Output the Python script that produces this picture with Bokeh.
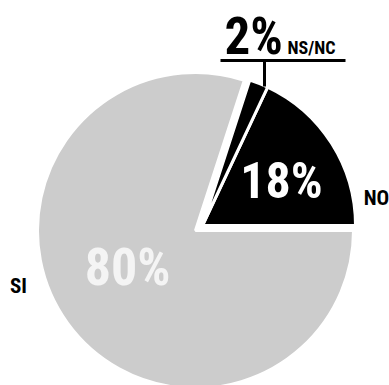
import math
from bokeh.plotting import figure
from bokeh.models import Range1d
from bokeh.core.properties import value
from bokeh.embed import file_html
from bokeh.resources import INLINE

labels = ["NO", "NS/NC", "SI"]
values = [18, 2, 80]
pct_labels = ["18%", "2%", "80%"]
colors = ["#000000", "#000000", "#cccccc"]

W, H = 389, 385
p = figure(width=W, height=H, output_backend="svg", toolbar_location=None,
           x_range=Range1d(0, W), y_range=Range1d(0, H), min_border=0)
p.axis.visible = False
p.grid.visible = False
p.outline_line_color = None
p.background_fill_color = "white"
p.border_fill_color = "white"

cx, cy = 195, H - 230
R = 158
total = sum(values)
start = 0.0
angles = []
for v in values:
    a0 = start
    a1 = start + v / total * 2 * math.pi
    angles.append((a0, a1))
    start = a1

ex, ey = 7, 5
for i, (lab, v, c) in enumerate(zip(labels, values, colors)):
    a0, a1 = angles[i]
    if c == "#000000":
        x, y, r = cx + ex, cy + ey, R - 5
    else:
        x, y, r = cx, cy, R
    p.wedge(x=[x], y=[y], radius=r, start_angle=a0, end_angle=a1,
            fill_color=c, line_color="white", line_width=3)

font = value("Roboto Condensed, Roboto, sans-serif")

def txt(x, y, t, size, color, align):
    p.text(x=[x], y=[H - y], text=[t], text_font=font,
           text_font_style="bold", text_font_size=size, text_color=color,
           text_align=align, text_baseline="alphabetic")

txt(281, 180.5, pct_labels[0], "50px", "white", "center")
txt(127, 266.5, pct_labels[2], "52px", "#f4f4f4", "center")
txt(224, 36, pct_labels[1], "51px", "black", "left")
txt(287, 47, labels[1], "18px", "black", "left")
txt(376, 197.5, labels[0], "21px", "black", "center")
txt(18, 285.5, labels[2], "21px", "black", "center")

p.line(x=[220, 345], y=[H - 60, H - 60], line_color="black", line_width=3)
p.line(x=[264, 264], y=[H - 60, H - 86], line_color="black", line_width=3)

open("out.html", "w").write(file_html(p, INLINE))
